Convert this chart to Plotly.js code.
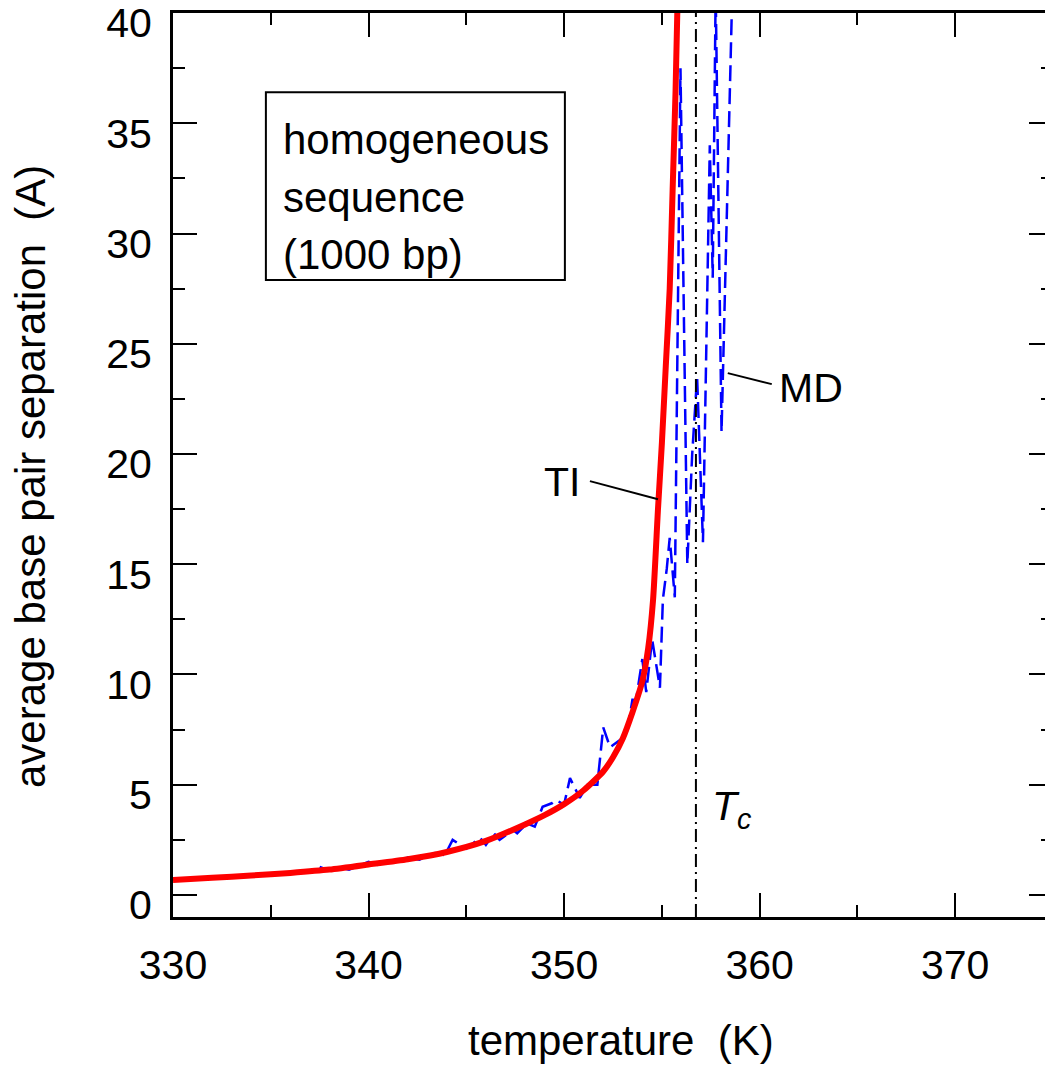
<!DOCTYPE html>
<html>
<head>
<meta charset="utf-8">
<script src="https://cdn.plot.ly/plotly-3.0.1.min.js"></script>
<style>
html,body{margin:0;padding:0;overflow:hidden;background:#fff;}
#chart{width:1060px;height:1065px;}
</style>
</head>
<body>
<div id="chart"></div>
<script>
// Thermodynamic (TI) curve: temperature (K) vs average base pair separation (A)
const tiT = [330, 332, 334, 336, 338, 340, 342, 344, 346, 348, 349, 350, 351, 352, 352.5, 353, 353.5, 354, 354.3, 354.55, 354.8, 355.0, 355.2, 355.4, 355.55, 355.7, 355.8];
const tiV = [0.68, 0.78, 0.88, 1.0, 1.15, 1.38, 1.62, 1.95, 2.45, 3.2, 3.62, 4.12, 4.75, 5.6, 6.25, 7.1, 8.3, 9.7, 11.2, 13.4, 17.5, 20.5, 24.0, 27.5, 32.0, 36.5, 40.5];

// Molecular dynamics (MD) curve
const mdT = [337.5, 338.0, 338.4, 339.0, 340.0, 340.5, 341.0, 342.0, 342.6, 343.4, 343.9, 344.3, 345.0, 345.7, 346.0, 346.4, 346.7, 347.4, 347.6, 348.1, 348.5, 348.9, 349.4, 349.6, 350.0, 350.3, 350.8, 351.2, 351.7, 352.0, 352.35, 353.2, 353.5, 353.6, 354.0, 354.2, 354.5, 354.9, 355.05, 355.25, 355.4, 355.66, 355.95, 356.3, 356.55, 356.8, 357.1, 357.45, 357.6, 357.75, 358.05, 358.6];
const mdV = [1.27, 1.1, 1.27, 1.15, 1.5, 1.35, 1.5, 1.7, 1.6, 1.9, 1.8, 2.5, 2.1, 2.6, 2.27, 2.8, 2.5, 2.95, 2.8, 3.25, 3.1, 4.0, 4.17, 4.3, 4.1, 5.3, 4.4, 5.0, 5.0, 7.6, 6.7, 7.25, 8.9, 8.4, 10.7, 9.2, 11.6, 9.4, 13.4, 14.8, 16.2, 13.5, 37.5, 15.0, 20.0, 23.5, 16.0, 34.0, 28.0, 41.0, 21.0, 41.0];

// Critical temperature
const Tc = 356.74;

const xTickVals = [330, 340, 350, 360, 370];
const yTickVals = [0, 5, 10, 15, 20, 25, 30, 35, 40];
const boxLines = ['homogeneous', 'sequence', '(1000 bp)'];

const FONT = 'Liberation Sans, Arial, Helvetica, sans-serif';

const traces = [
  {x: mdT, y: mdV, mode: 'lines', line: {color: '#0000ff', width: 2.5, dash: '16px,7px'}, hoverinfo: 'skip'},
  {x: tiT, y: tiV, mode: 'lines', line: {color: '#ff0000', width: 6, shape: 'spline', smoothing: 0.6}, hoverinfo: 'skip'}
];

const axisCommon = {
  showline: true, linecolor: '#000', linewidth: 3, mirror: 'ticks',
  ticks: 'inside', ticklen: 24, tickwidth: 2, tickcolor: '#000',
  showgrid: false, zeroline: false,
  ticklabeloverflow: 'allow',
  tickfont: {family: FONT, size: 41, color: '#000'},
  fixedrange: true
};

const layout = {
  width: 1060, height: 1065,
  margin: {l: 173, r: 7, t: 13, b: 148},
  paper_bgcolor: '#fff', plot_bgcolor: '#fff',
  showlegend: false,
  font: {family: FONT, color: '#000'},
  xaxis: Object.assign({}, axisCommon, {
    range: [330, 375], tickvals: xTickVals, ticktext: xTickVals.map(String),
    ticklabelstandoff: 10,
    minor: {dtick: 5, tick0: 330, ticks: 'inside', ticklen: 12, tickwidth: 2, tickcolor: '#000', showgrid: false}
  }),
  yaxis: Object.assign({}, axisCommon, {
    range: [-1, 40.005], tickvals: yTickVals, ticktext: yTickVals.map(String),
    ticklabelstandoff: 10, ticklabelshift: 10,
    minor: {dtick: 2.5, tick0: 0, ticks: 'inside', ticklen: 12, tickwidth: 2, tickcolor: '#000', showgrid: false}
  }),
  shapes: [
    {type: 'line', xref: 'x', yref: 'paper', x0: Tc, x1: Tc, y0: 0, y1: 1, line: {color: '#000', width: 2, dash: '13px,5px,2px,5px'}},
    {type: 'rect', xref: 'x', yref: 'y', x0: 334.75, x1: 350.04, y0: 27.89, y1: 36.41, line: {color: '#000', width: 2}, fillcolor: 'rgba(0,0,0,0)'},
    {type: 'line', xref: 'x', yref: 'y', x0: 351.32, y0: 18.77, x1: 354.8, y1: 17.95, line: {color: '#000', width: 2}},
    {type: 'line', xref: 'x', yref: 'y', x0: 358.37, y0: 23.67, x1: 360.62, y1: 23.17, line: {color: '#000', width: 2}}
  ],
  annotations: [
    {xref: 'x', yref: 'y', x: 335.5, y: 34.25, text: boxLines[0], showarrow: false, xanchor: 'left', yanchor: 'middle', font: {size: 42}},
    {xref: 'x', yref: 'y', x: 335.5, y: 31.65, text: boxLines[1], showarrow: false, xanchor: 'left', yanchor: 'middle', font: {size: 42}},
    {xref: 'x', yref: 'y', x: 335.5, y: 29.05, text: boxLines[2], showarrow: false, xanchor: 'left', yanchor: 'middle', font: {size: 42}},
    {xref: 'x', yref: 'y', x: 349.9, y: 18.73, text: 'TI', showarrow: false, xanchor: 'center', yanchor: 'middle', font: {size: 41}},
    {xref: 'x', yref: 'y', x: 362.6, y: 22.99, text: 'MD', showarrow: false, xanchor: 'center', yanchor: 'middle', font: {size: 41}},
    {xref: 'x', yref: 'y', x: 358.6, y: 3.9, text: '<i>T<sub>c</sub></i>', showarrow: false, xanchor: 'center', yanchor: 'middle', font: {size: 41}},
    {xref: 'paper', yref: 'paper', x: 0.5, y: 0, xshift: 8, yshift: -123, text: 'temperature\u00a0\u00a0(K)', showarrow: false, xanchor: 'center', yanchor: 'middle', font: {size: 42}},
    {xref: 'paper', yref: 'paper', x: 0, xshift: -143, y: 0.5, yshift: -12, text: 'average base pair separation\u00a0\u00a0(A)', textangle: -90, showarrow: false, xanchor: 'center', yanchor: 'middle', font: {size: 42}}
  ]
};

Plotly.newPlot('chart', traces, layout, {displayModeBar: false, staticPlot: true});
</script>
</body>
</html>
